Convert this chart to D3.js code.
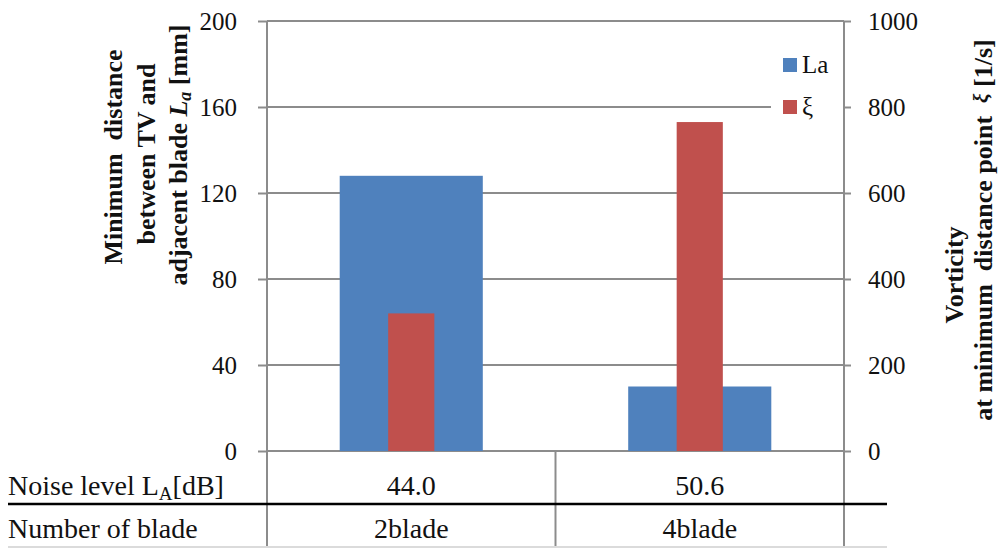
<!DOCTYPE html>
<html><head><meta charset="utf-8">
<script src="https://cdn.jsdelivr.net/npm/d3@7"></script>
<style>
html,body{margin:0;padding:0;background:#fff;}
svg{display:block;font-family:"Liberation Serif","Times New Roman",serif;}
</style></head>
<body>
<svg id="c" width="998" height="548"></svg>
<script>
const categories = ["2blade", "4blade"];
const laValues = [128, 30];
const xiValues = [320, 765];
const noiseLevels = ["44.0", "50.6"];
const leftTicks = [0, 40, 80, 120, 160, 200];
const rightTicks = [0, 200, 400, 600, 800, 1000];

const svg = d3.select("#c");
const L = 267, R = 844, T = 21, B = 451;
const grey = "#8c8c8c";
const blue = "#4F81BD", red = "#C0504D";
const serif = "Liberation Serif, Times New Roman, serif";

const x = d3.scaleBand().domain(categories).range([L, R]).paddingInner(0).paddingOuter(0);
const yL = d3.scaleLinear().domain([0, 200]).range([B, T]);
const yR = d3.scaleLinear().domain([0, 1000]).range([B, T]);

// gridlines
svg.append("g").selectAll("line").data(leftTicks).join("line")
  .attr("x1", L).attr("x2", R).attr("y1", d => yL(d)).attr("y2", d => yL(d))
  .attr("stroke", grey).attr("stroke-width", 2);

// bars
const bw = x.bandwidth();
svg.append("g").selectAll("rect").data(categories).join("rect")
  .attr("x", d => x(d) + bw * 0.252).attr("width", bw * 0.496)
  .attr("y", (d, i) => yL(laValues[i])).attr("height", (d, i) => B - yL(laValues[i]))
  .attr("fill", blue);
svg.append("g").selectAll("rect").data(categories).join("rect")
  .attr("x", d => x(d) + bw * 0.42).attr("width", bw * 0.16)
  .attr("y", (d, i) => yR(xiValues[i])).attr("height", (d, i) => B - yR(xiValues[i]))
  .attr("fill", red);

// axes
const axL = svg.append("g").attr("transform", `translate(${L},0)`)
  .call(d3.axisLeft(yL).tickValues(leftTicks).tickSize(9).tickPadding(21).tickFormat(d3.format("d")));
const axR = svg.append("g").attr("transform", `translate(${R},0)`)
  .call(d3.axisRight(yR).tickValues(rightTicks).tickSize(7).tickPadding(17).tickFormat(d3.format("d")));
[axL, axR].forEach(a => {
  a.attr("font-family", serif);
  a.select(".domain").remove();
  a.selectAll("line").attr("stroke", grey).attr("stroke-width", 2);
  a.selectAll("text").attr("font-family", serif).attr("font-size", 25).attr("fill", "#111");
});
// axis lines (extend into table)
svg.append("line").attr("x1", L).attr("x2", L).attr("y1", T).attr("y2", 546).attr("stroke", grey).attr("stroke-width", 2);
svg.append("line").attr("x1", R).attr("x2", R).attr("y1", T).attr("y2", 546).attr("stroke", grey).attr("stroke-width", 2);
// category divider
svg.append("line").attr("x1", x("4blade")).attr("x2", x("4blade")).attr("y1", B).attr("y2", 546).attr("stroke", grey).attr("stroke-width", 2);

// legend
const lg = svg.append("g");
lg.append("rect").attr("x", 771).attr("y", 45).attr("width", 72).attr("height", 80).attr("fill", "#fff");
[["La", blue, 58], ["ξ", red, 100]].forEach(([t, c, yy]) => {
  lg.append("rect").attr("x", 783).attr("y", yy).attr("width", 14).attr("height", 14).attr("fill", c);
  lg.append("text").attr("x", 802).attr("y", yy + 15).attr("font-family", serif).attr("font-size", 25).attr("fill", "#111").text(t);
});

// table
svg.append("line").attr("x1", 8).attr("x2", 887).attr("y1", 504).attr("y2", 504).attr("stroke", "#000").attr("stroke-width", 2.5);
svg.append("line").attr("x1", 8).attr("x2", 887).attr("y1", 547).attr("y2", 547).attr("stroke", "#cfcfcf").attr("stroke-width", 1.5);
const tfs = 28;
const nl = svg.append("text").attr("x", 8).attr("y", 495).attr("font-family", serif).attr("font-size", tfs).attr("fill", "#111");
nl.append("tspan").text("Noise level L");
nl.append("tspan").attr("font-size", 19).attr("dy", 5).text("A");
nl.append("tspan").attr("dy", -5).text("[dB]");
svg.append("text").attr("x", 8).attr("y", 538).attr("font-family", serif).attr("font-size", tfs).attr("fill", "#111").text("Number of blade");
svg.append("g").selectAll("text").data(categories).join("text")
  .attr("x", d => x(d) + bw / 2).attr("y", 495).attr("text-anchor", "middle")
  .attr("font-family", serif).attr("font-size", tfs).attr("fill", "#111").text((d, i) => noiseLevels[i]);
svg.append("g").selectAll("text").data(categories).join("text")
  .attr("x", d => x(d) + bw / 2).attr("y", 538).attr("text-anchor", "middle")
  .attr("font-family", serif).attr("font-size", tfs).attr("fill", "#111").text(d => d);

// left title
const lt = svg.append("g").attr("font-family", serif).attr("font-weight", "bold").attr("font-size", 26).attr("fill", "#111");
lt.append("text").attr("transform", "translate(122,157) rotate(-90)").attr("text-anchor", "middle").attr("xml:space", "preserve").text("Minimum  distance");
lt.append("text").attr("transform", "translate(155,154) rotate(-90)").attr("text-anchor", "middle").text("between TV and");
const l3 = lt.append("text").attr("transform", "translate(187,155) rotate(-90)").attr("text-anchor", "middle");
l3.append("tspan").text("adjacent blade ");
l3.append("tspan").attr("font-style", "italic").text("L");
l3.append("tspan").attr("font-style", "italic").attr("font-size", 18).attr("dy", 4).text("a");
l3.append("tspan").attr("dy", -4).text(" [mm]");

// right title
const rt = svg.append("g").attr("font-family", serif).attr("font-weight", "bold").attr("font-size", 26).attr("fill", "#111");
rt.append("text").attr("transform", "translate(963,275) rotate(-90)").attr("text-anchor", "middle").text("Vorticity");
const r2 = rt.append("text").attr("transform", "translate(992,230) rotate(-90)").attr("text-anchor", "middle").attr("xml:space", "preserve");
r2.append("tspan").text("at minimum  distance point  ");
r2.append("tspan").attr("font-style", "italic").attr("font-size", 21).attr("dy", -4).text("ξ");
r2.append("tspan").attr("dy", 4).text(" [1/s]");
</script>
</body></html>
